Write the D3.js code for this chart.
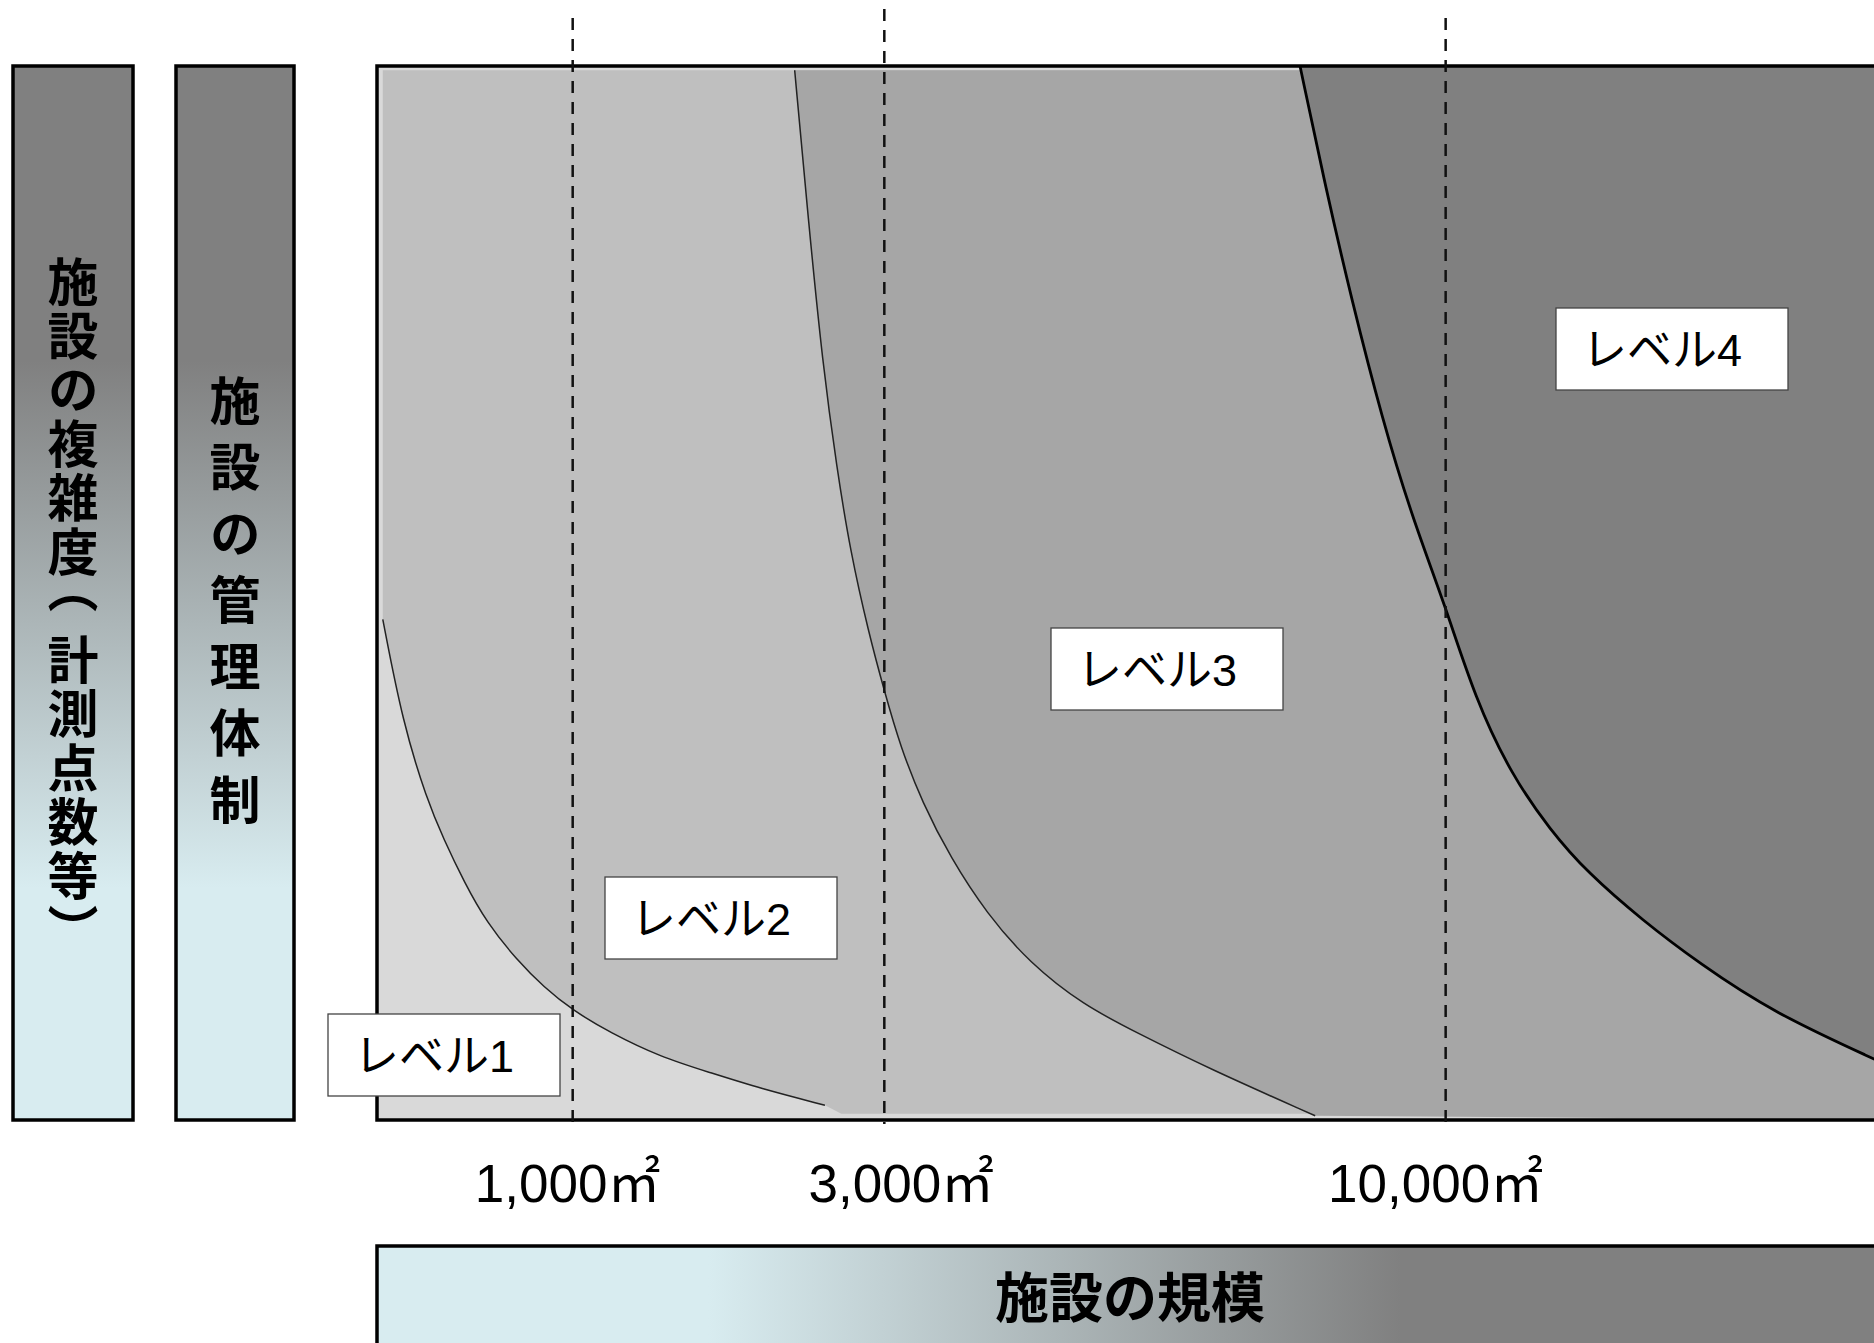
<!DOCTYPE html>
<html>
<head>
<meta charset="utf-8">
<script src="https://cdn.jsdelivr.net/npm/d3@7"></script>
<style>
  html, body { margin: 0; padding: 0; background: #fff; }
  svg { display: block; }
</style>
</head>
<body>
<svg class="chart"></svg>
<script>
// area (m2) of the facility and a 0-100 "complexity" value
const sizeTicks = [1000, 3000, 10000];
const tickLabels = ['1,000㎡', '3,000㎡', '10,000㎡'];
const levelNames = ['レベル1', 'レベル2', 'レベル3', 'レベル4'];
const sideTitles = ['施設の複雑度（計測点数等）', '施設の管理体制'];
const bottomTitle = '施設の規模';

const areaDomain = [330, 18900];
const complexityDomain = [0, 100];

// boundary between level 1 and level 2
const boundary12 = [[344, 47.5], [395, 37.7], [462, 30.4], [513, 26.6], [577, 22.6],
    [655, 18.7], [766, 15.2], [875, 12.6], [1000, 10.4], [1176, 8.3], [1438, 6.0],
    [1731, 4.5], [2054, 3.0], [2523, 1.4]];
// boundary between level 2 and level 3
const boundary23 = [[2298, 99.6], [2401, 85.0], [2506, 71.7], [2614, 61.9], [2722, 53.9],
    [2868, 46.3], [3000, 40.7], [3138, 35.4], [3331, 30.1], [3587, 24.9], [3933, 19.6],
    [4369, 14.9], [4953, 10.9], [5567, 8.3], [6468, 4.9], [7950, 0.4]];
// boundary between level 3 and level 4
const boundary34 = [[7729, 100], [8110, 88.3], [8501, 77.7], [8971, 66.5], [9447, 57.2],
    [10000, 48.7], [10500, 40.0], [11140, 32.7], [11840, 27.5], [12530, 23.5], [13620, 18.9],
    [14760, 14.9], [16350, 10.2], [18900, 5.4]];

// layout / style
const W = 1874, H = 1343;
const plot = {left: 377, right: 1883, top: 66, bottom: 1120};
const fills = ['#d9d9d9', '#bfbfbf', '#a6a6a6', '#808080'];
const lightBlue = '#d8ecf0', midGray = '#808080';
const labelBoxes = [
    {x: 328, y: 1014}, {x: 605, y: 877}, {x: 1051, y: 628}, {x: 1556, y: 308}];
const boxW = 232, boxH = 82;
const dashTop = [18, 9, 18];
const tickShift = [-5, 17, -10];
const latin = '"Liberation Sans", Arial, "Noto Sans CJK JP", sans-serif';
const cjk = '"Noto Sans CJK JP", sans-serif';

const svg = d3.select('.chart').attr('width', W).attr('height', H);
const defs = svg.append('defs');

const vGrad = defs.append('linearGradient').attr('id', 'vgrad')
    .attr('x1', 0).attr('y1', 0).attr('x2', 0).attr('y2', 1);
vGrad.append('stop').attr('offset', 0).attr('stop-color', midGray);
vGrad.append('stop').attr('offset', 0.28).attr('stop-color', midGray);
vGrad.append('stop').attr('offset', 0.78).attr('stop-color', lightBlue);
vGrad.append('stop').attr('offset', 1).attr('stop-color', lightBlue);

const hGrad = defs.append('linearGradient').attr('id', 'hgrad')
    .attr('gradientUnits', 'userSpaceOnUse')
    .attr('x1', plot.left).attr('y1', 0).attr('x2', plot.right).attr('y2', 0);
hGrad.append('stop').attr('offset', 0).attr('stop-color', lightBlue);
hGrad.append('stop').attr('offset', 0.22).attr('stop-color', lightBlue);
hGrad.append('stop').attr('offset', 0.68).attr('stop-color', midGray);
hGrad.append('stop').attr('offset', 1).attr('stop-color', midGray);

const xScale = d3.scalePow().exponent(0.43).domain(areaDomain)
    .range([plot.left, plot.right]);
const yScale = d3.scaleLinear().domain(complexityDomain)
    .range([plot.bottom, plot.top]);

const curve = d3.line()
    .x(d => xScale(d[0]))
    .y(d => yScale(d[1]))
    .curve(d3.curveBasis);
const pt = (a, c) => `L${xScale(a)},${yScale(c)}`;
const maxA = areaDomain[1];

// level regions, stacked from light to dark
svg.append('rect')
    .attr('x', plot.left).attr('y', plot.top)
    .attr('width', plot.right - plot.left).attr('height', plot.bottom - plot.top)
    .attr('fill', fills[0]);

const regions = [
    curve(boundary12) + pt(2650, 0.6) + pt(maxA, 0.6) + pt(maxA, 99.6) + pt(344, 99.6) + 'Z',
    curve(boundary23) + pt(maxA, 0) + pt(maxA, 99.6) + 'Z',
    curve(boundary34) + pt(maxA, 100) + 'Z',
];
svg.selectAll('.region')
    .data(regions)
    .enter()
    .append('path')
    .classed('region', true)
    .attr('d', d => d)
    .attr('fill', (d, i) => fills[i + 1]);

svg.selectAll('.boundary')
    .data([boundary12, boundary23, boundary34])
    .enter()
    .append('path')
    .classed('boundary', true)
    .attr('d', d => curve(d))
    .attr('fill', 'none')
    .attr('stroke', (d, i) => i === 2 ? '#000' : '#222')
    .attr('stroke-width', (d, i) => i === 2 ? 2.8 : 1.5);

// frame
svg.append('rect')
    .attr('x', plot.left).attr('y', plot.top)
    .attr('width', plot.right - plot.left).attr('height', plot.bottom - plot.top)
    .attr('fill', 'none').attr('stroke', '#000').attr('stroke-width', 3.5);

// dashed size lines
svg.selectAll('.size-line')
    .data(sizeTicks)
    .enter()
    .append('line')
    .classed('size-line', true)
    .attr('x1', d => xScale(d)).attr('x2', d => xScale(d))
    .attr('y1', (d, i) => dashTop[i]).attr('y2', plot.bottom + 4)
    .attr('stroke', '#111').attr('stroke-width', 2.5)
    .attr('stroke-dasharray', '12 9');

// level labels
const labels = svg.selectAll('.level')
    .data(levelNames)
    .enter()
    .append('g')
    .classed('level', true)
    .attr('transform', (d, i) => `translate(${labelBoxes[i].x},${labelBoxes[i].y})`);
labels.append('rect')
    .attr('width', boxW).attr('height', boxH)
    .attr('fill', '#fff').attr('stroke', '#444').attr('stroke-width', 1.3);
labels.append('text')
    .attr('x', 26).attr('y', boxH / 2 + 17)
    .style('font-family', latin).style('font-size', '45px')
    .attr('fill', '#000')
    .text(d => d);

// tick labels under the plot
svg.selectAll('.tick-label')
    .data(sizeTicks)
    .enter()
    .append('text')
    .classed('tick-label', true)
    .attr('x', (d, i) => xScale(d) + tickShift[i]).attr('y', 1202)
    .attr('text-anchor', 'middle')
    .style('font-family', latin).style('font-size', '53px')
    .attr('fill', '#000')
    .text((d, i) => tickLabels[i]);

// side bars with vertical titles, one character cell per glyph
const sideBars = [{x: 13, w: 120, ty: 256, pitch: 54}, {x: 176, w: 118, ty: 375, pitch: 66.5}];
svg.selectAll('.side-bar')
    .data(sideBars)
    .enter()
    .append('rect')
    .classed('side-bar', true)
    .attr('x', d => d.x).attr('y', plot.top)
    .attr('width', d => d.w).attr('height', plot.bottom - plot.top)
    .attr('fill', 'url(#vgrad)').attr('stroke', '#000').attr('stroke-width', 3.5);
const sideText = svg.selectAll('.side-title')
    .data(sideTitles)
    .enter()
    .append('text')
    .classed('side-title', true)
    .style('writing-mode', 'vertical-rl')
    .style('font-family', cjk).style('font-weight', 'bold').style('font-size', '51px')
    .attr('fill', '#000');
sideText.each(function (title, i) {
    const bar = sideBars[i];
    d3.select(this).selectAll('tspan')
        .data(Array.from(title))
        .enter()
        .append('tspan')
        .attr('x', bar.x + bar.w / 2)
        .attr('y', (c, j) => bar.ty + j * bar.pitch + (c === '（' ? -18 : 0))
        .text(c => c);
});

// bottom bar
svg.append('rect')
    .attr('x', plot.left).attr('y', 1246)
    .attr('width', plot.right - plot.left).attr('height', 110)
    .attr('fill', 'url(#hgrad)').attr('stroke', '#000').attr('stroke-width', 3.5);
svg.append('text')
    .attr('x', (plot.left + plot.right) / 2).attr('y', 1318)
    .attr('text-anchor', 'middle')
    .style('font-family', cjk).style('font-weight', 'bold').style('font-size', '54px')
    .attr('fill', '#000')
    .text(bottomTitle);
</script>
</body>
</html>
